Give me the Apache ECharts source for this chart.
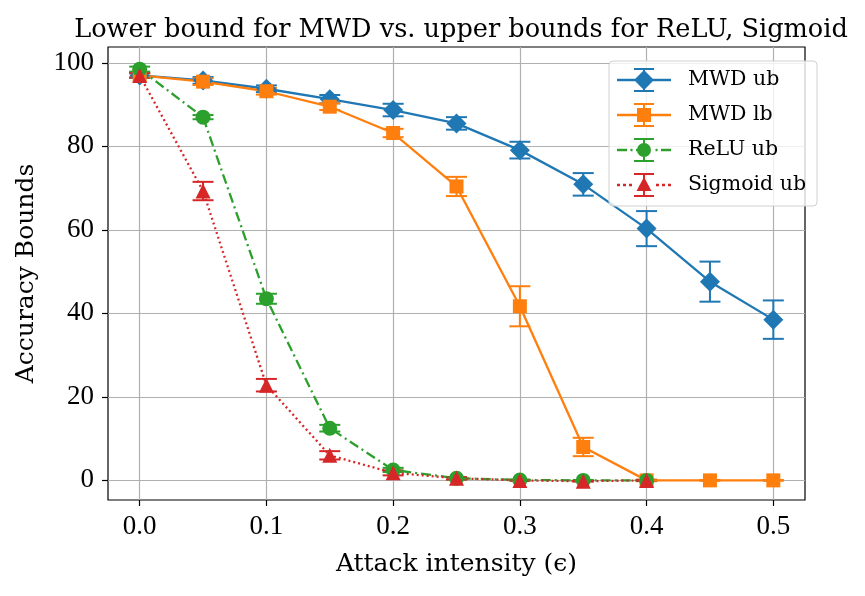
<!DOCTYPE html>
<html>
<head>
<meta charset="utf-8">
<script src="https://cdn.jsdelivr.net/npm/echarts@6.0.0/dist/echarts.min.js"></script>
<style>
  html, body { margin: 0; padding: 0; background: #fff; }
  #chart { width: 865px; height: 596px; }
</style>
</head>
<body>
<div id="chart"></div>
<script>
// 数据定义
var eps = [0.0, 0.05, 0.1, 0.15, 0.2, 0.25, 0.3, 0.35, 0.4, 0.45, 0.5];
var xTicks = [0.0, 0.1, 0.2, 0.3, 0.4, 0.5];
var yTicks = [0, 20, 40, 60, 80, 100];

var mwdUb = [97.0, 95.8, 93.8, 91.3, 88.7, 85.5, 79.1, 70.9, 60.3, 47.6, 38.5];
var mwdUbErr = [0.6, 0.8, 0.8, 1.0, 1.5, 1.5, 2.0, 2.7, 4.2, 4.8, 4.6];
var mwdLb = [97.0, 95.5, 93.2, 89.5, 83.2, 70.4, 41.7, 8.0, 0.0, 0.0, 0.0];
var mwdLbErr = [0.5, 0.8, 0.8, 0.8, 1.0, 2.3, 4.8, 2.2, 0.2, 0.1, 0.1];
var reluUb = [98.5, 87.0, 43.5, 12.5, 2.5, 0.5, 0.1, 0.0, 0.0];
var reluUbErr = [0.6, 0.5, 1.2, 0.8, 0.5, 0.3, 0.1, 0.1, 0.1];
var sigUb = [97.0, 69.3, 22.8, 6.0, 1.8, 0.5, 0.0, -0.2, 0.0];
var sigUbErr = [0.5, 2.2, 1.5, 1.0, 0.6, 0.3, 0.1, 0.1, 0.1];

var FONT = 'DejaVu Serif';
var TICKFONT = 'Liberation Serif';

// 图例图标: 线段 + 误差棒 + 标记 (54 x 24)
var ERRBAR = 'M26,0 h2 v24 h-2 Z M17,0 h20 v2 h-20 Z M17,22 h20 v2 h-20 Z ';
function seg(a, b) {
    return 'M' + a + ',10.85 h' + (b - a) + ' v2.3 h' + (a - b) + ' Z ';
}
var iconUb = 'path://' + seg(0, 54) + ERRBAR + 'M27,2 L37,12 L27,22 L17,12 Z';
var iconLb = 'path://' + seg(0, 54) + ERRBAR + 'M20,5 h14 v14 h-14 Z';
var iconRelu = 'path://' + seg(0, 10) + seg(13.5, 15.5) + seg(19, 29) + seg(38.5, 40.5) + seg(44, 54) +
    ERRBAR + 'M20,12 A7,7 0 1,1 34,12 A7,7 0 1,1 20,12 Z';
var iconSig = 'path://' + seg(0, 3) + seg(6, 9) + seg(12, 15) + seg(39, 42) + seg(45, 48) + seg(51, 54) +
    ERRBAR + 'M27,4 L34.5,18 L19.5,18 Z';

function pairs(ys) {
    return ys.map(function (v, i) { return [eps[i], v]; });
}

function errData(ys, errs) {
    return ys.map(function (v, i) { return [eps[i], v, errs[i]]; });
}

// 误差棒
function errSeries(name, color, ys, errs, capW) {
    return {
        type: 'custom',
        name: name,
        data: errData(ys, errs),
        clip: false,
        z: 3,
        silent: true,
        encode: { x: 0, y: 1 },
        renderItem: function (params, api) {
            var x = api.value(0), y = api.value(1), e = api.value(2);
            var lo = api.coord([x, y - e]);
            var hi = api.coord([x, y + e]);
            var st = { stroke: color, lineWidth: 2 };
            return {
                type: 'group',
                children: [
                    { type: 'line', shape: { x1: lo[0], y1: lo[1], x2: hi[0], y2: hi[1] }, style: st },
                    { type: 'line', shape: { x1: lo[0] - capW, y1: lo[1], x2: lo[0] + capW, y2: lo[1] }, style: st },
                    { type: 'line', shape: { x1: hi[0] - capW, y1: hi[1], x2: hi[0] + capW, y2: hi[1] }, style: st }
                ]
            };
        }
    };
}

function lineSeries(name, color, ys, symbol, size, lineType) {
    return {
        type: 'line',
        name: name,
        data: pairs(ys),
        symbol: symbol,
        symbolSize: size,
        showAllSymbol: true,
        clip: false,
        z: 3,
        lineStyle: { color: color, width: 2.3, type: lineType },
        itemStyle: { color: color, opacity: 1 },
        emphasis: { disabled: true }
    };
}

var chart = echarts.init(document.getElementById('chart'));

var option = {
    animation: false,
    backgroundColor: '#fff',
    title: {
        text: 'Lower bound for MWD vs. upper bounds for ReLU, Sigmoid',
        left: 456,
        top: 12,
        textAlign: 'center',
        textStyle: { fontFamily: FONT, fontSize: 25.6, fontWeight: 'normal', color: '#000' }
    },
    legend: {
        orient: 'vertical',
        left: 609,
        top: 61,
        padding: [7, 11, 9, 8],
        itemGap: 11,
        itemWidth: 54,
        itemHeight: 24,
        backgroundColor: 'rgba(255,255,255,0.8)',
        borderColor: '#d0d0d0',
        borderWidth: 1,
        borderRadius: 4,
        textStyle: { fontFamily: FONT, fontSize: 20.5, lineHeight: 24, color: '#000', padding: [0, 0, 0, 12] },
        data: [
            { name: 'MWD ub', icon: iconUb },
            { name: 'MWD lb', icon: iconLb },
            { name: 'ReLU ub', icon: iconRelu },
            { name: 'Sigmoid ub', icon: iconSig }
        ]
    },
    grid: {
        left: 108,
        right: 60,
        top: 47,
        bottom: 96,
        show: true,
        borderColor: '#000',
        borderWidth: 1.2
    },
    xAxis: {
        type: 'value',
        min: -0.025,
        max: 0.525,
        name: 'Attack intensity (\u03f5)',
        nameLocation: 'middle',
        nameGap: 52,
        nameTextStyle: { fontFamily: FONT, fontSize: 25, color: '#000' },
        axisLine: { show: false, onZero: false },
        axisTick: { show: true, length: 6, lineStyle: { color: '#000', width: 1.2 }, customValues: xTicks },
        axisLabel: {
            fontFamily: TICKFONT, fontSize: 27, color: '#000', margin: 13,
            customValues: xTicks,
            formatter: function (v) { return v.toFixed(1); }
        },
        splitLine: { show: true, lineStyle: { color: '#b0b0b0', width: 1.2 } }
    },
    yAxis: {
        type: 'value',
        min: -4.7,
        max: 103.8,
        name: 'Accuracy Bounds',
        nameLocation: 'middle',
        nameGap: 69,
        nameTextStyle: { fontFamily: FONT, fontSize: 25, color: '#000' },
        axisLine: { show: false, onZero: false },
        axisTick: { show: true, length: 6, lineStyle: { color: '#000', width: 1.2 }, customValues: yTicks },
        axisLabel: {
            fontFamily: TICKFONT, fontSize: 27, color: '#000', margin: 14,
            customValues: yTicks
        },
        splitLine: { show: true, lineStyle: { color: '#b0b0b0', width: 1.2 } }
    },
    series: [
        lineSeries('MWD ub', '#1f77b4', mwdUb, 'diamond', 20, 'solid'),
        errSeries('MWD ub', '#1f77b4', mwdUb, mwdUbErr, 10.5),
        lineSeries('MWD lb', '#ff7f0e', mwdLb, 'rect', 14, 'solid'),
        errSeries('MWD lb', '#ff7f0e', mwdLb, mwdLbErr, 10.5),
        lineSeries('ReLU ub', '#2ca02c', reluUb, 'circle', 15, [10, 4, 2, 4]),
        errSeries('ReLU ub', '#2ca02c', reluUb, reluUbErr, 10.5),
        lineSeries('Sigmoid ub', '#d62728', sigUb, 'triangle', 15, [2, 3]),
        errSeries('Sigmoid ub', '#d62728', sigUb, sigUbErr, 10.5)
    ]
};

chart.setOption(option);
</script>
</body>
</html>
